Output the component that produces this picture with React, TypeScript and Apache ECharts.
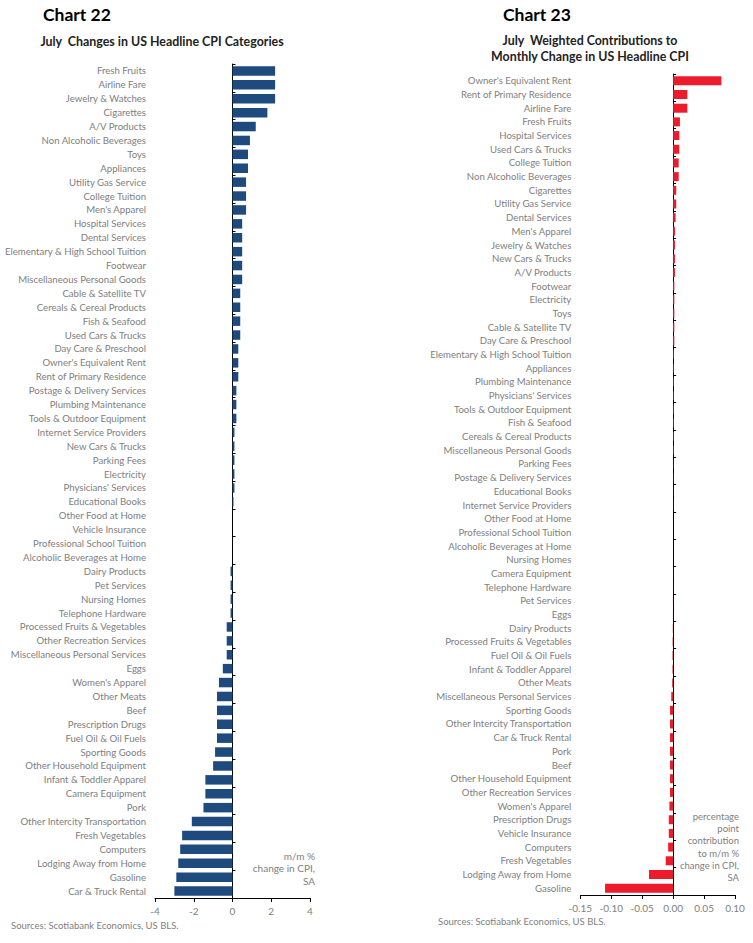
import React, { useEffect, useRef } from "react";
import * as echarts from "echarts";

const leftCategories = [
  "Fresh Fruits", "Airline Fare", "Jewelry & Watches", "Cigarettes", "A/V Products",
  "Non Alcoholic Beverages", "Toys", "Appliances", "Utility Gas Service", "College Tuition",
  "Men's Apparel", "Hospital Services", "Dental Services", "Elementary & High School Tuition", "Footwear",
  "Miscellaneous Personal Goods", "Cable & Satellite TV", "Cereals & Cereal Products", "Fish & Seafood", "Used Cars & Trucks",
  "Day Care & Preschool", "Owner's Equivalent Rent", "Rent of Primary Residence", "Postage & Delivery Services", "Plumbing Maintenance",
  "Tools & Outdoor Equipment", "Internet Service Providers", "New Cars & Trucks", "Parking Fees", "Electricity",
  "Physicians' Services", "Educational Books", "Other Food at Home", "Vehicle Insurance", "Professional School Tuition",
  "Alcoholic Beverages at Home", "Dairy Products", "Pet Services", "Nursing Homes", "Telephone Hardware",
  "Processed Fruits & Vegetables", "Other Recreation Services", "Miscellaneous Personal Services", "Eggs", "Women's Apparel",
  "Other Meats", "Beef", "Prescription Drugs", "Fuel Oil & Oil Fuels", "Sporting Goods",
  "Other Household Equipment", "Infant & Toddler Apparel", "Camera Equipment", "Pork", "Other Intercity Transportation",
  "Fresh Vegetables", "Computers", "Lodging Away from Home", "Gasoline", "Car & Truck Rental",
];
const leftValues = [
  2.2, 2.2, 2.2, 1.8, 1.2,
  0.9, 0.8, 0.8, 0.7, 0.7,
  0.7, 0.5, 0.5, 0.5, 0.5,
  0.5, 0.4, 0.4, 0.4, 0.4,
  0.3, 0.3, 0.3, 0.2, 0.2,
  0.2, 0.1, 0.1, 0.1, 0.1,
  0.1, 0.05, 0, 0, 0,
  0, -0.1, -0.1, -0.1, -0.1,
  -0.3, -0.3, -0.3, -0.5, -0.7,
  -0.8, -0.8, -0.8, -0.8, -0.9,
  -1.0, -1.4, -1.4, -1.5, -2.1,
  -2.6, -2.7, -2.8, -2.9, -3.0,
];

const rightCategories = [
  "Owner's Equivalent Rent", "Rent of Primary Residence", "Airline Fare", "Fresh Fruits", "Hospital Services",
  "Used Cars & Trucks", "College Tuition", "Non Alcoholic Beverages", "Cigarettes", "Utility Gas Service",
  "Dental Services", "Men's Apparel", "Jewelry & Watches", "New Cars & Trucks", "A/V Products",
  "Footwear", "Electricity", "Toys", "Cable & Satellite TV", "Day Care & Preschool",
  "Elementary & High School Tuition", "Appliances", "Plumbing Maintenance", "Physicians' Services", "Tools & Outdoor Equipment",
  "Fish & Seafood", "Cereals & Cereal Products", "Miscellaneous Personal Goods", "Parking Fees", "Postage & Delivery Services",
  "Educational Books", "Internet Service Providers", "Other Food at Home", "Professional School Tuition", "Alcoholic Beverages at Home",
  "Nursing Homes", "Camera Equipment", "Telephone Hardware", "Pet Services", "Eggs",
  "Dairy Products", "Processed Fruits & Vegetables", "Fuel Oil & Oil Fuels", "Infant & Toddler Apparel", "Other Meats",
  "Miscellaneous Personal Services", "Sporting Goods", "Other Intercity Transportation", "Car & Truck Rental", "Pork",
  "Beef", "Other Household Equipment", "Other Recreation Services", "Women's Apparel", "Prescription Drugs",
  "Vehicle Insurance", "Computers", "Fresh Vegetables", "Lodging Away from Home", "Gasoline",
];
const rightValues = [
  0.078, 0.023, 0.023, 0.011, 0.01,
  0.01, 0.009, 0.009, 0.005, 0.005,
  0.004, 0.003, 0.003, 0.003, 0.003,
  0.002, 0.002, 0.002, 0.002, 0.002,
  0.001, 0.001, 0.001, 0.001, 0.001,
  0.001, 0.001, 0.001, 0.0005, 0.0005,
  0.0003, 0.0003, 0, 0, 0,
  0, -0.0002, -0.0002, -0.0003, -0.0003,
  -0.0005, -0.0008, -0.001, -0.001, -0.0015,
  -0.003, -0.005, -0.005, -0.005, -0.005,
  -0.005, -0.005, -0.005, -0.006, -0.007,
  -0.007, -0.008, -0.012, -0.039, -0.11,
];

const leftTicks = { min: -4, max: 4, interval: 2 };
const rightTicks = { min: -0.15, max: 0.1, interval: 0.05 };

const FONT = "Lato, 'Open Sans', sans-serif";
const LABEL = "#808080";

export default function App() {
  const ref = useRef<HTMLDivElement>(null);
  useEffect(() => {
    if (!ref.current) return;
    const chart = echarts.init(ref.current, undefined, { renderer: "svg" });
    const labelStyle = { color: LABEL, fontSize: 9.6, fontFamily: FONT };
    const catAxisLabels = (gi: number, data: string[]) => ({
      type: "category",
      gridIndex: gi,
      data,
      inverse: true,
      position: "left",
      axisLine: { show: false, onZero: false },
      axisTick: { show: false },
      axisLabel: { ...labelStyle, margin: 9, interval: 0 },
    });
    const catAxisLine = (gi: number, data: string[]) => ({
      type: "category",
      gridIndex: gi,
      data,
      inverse: true,
      position: "left",
      axisLine: { show: true, onZero: true, lineStyle: { color: "#000", width: 1 } },
      axisTick: { show: true, inside: true, length: 3, lineStyle: { color: "#000" } },
      axisLabel: { show: false },
    });
    chart.setOption({
      animation: false,
      backgroundColor: "#ffffff",
      textStyle: { fontFamily: FONT },
      grid: [
        { left: 155, right: 443, top: 64, height: 834 },
        { left: 580.3, right: 18, top: 74, height: 821 },
      ],
      xAxis: [
        {
          type: "value",
          gridIndex: 0,
          ...leftTicks,
          splitLine: { show: false },
          axisLine: { show: true, onZero: false, lineStyle: { color: "#000" } },
          axisTick: { show: true, length: 4, lineStyle: { color: "#000" } },
          axisLabel: { ...labelStyle, fontSize: 10, margin: 8 },
        },
        {
          type: "value",
          gridIndex: 1,
          ...rightTicks,
          splitLine: { show: false },
          axisLine: { show: true, onZero: false, lineStyle: { color: "#000" } },
          axisTick: { show: true, length: 4, lineStyle: { color: "#000" } },
          axisLabel: { ...labelStyle, fontSize: 10, margin: 8, formatter: (v: number) => v.toFixed(2) },
        },
      ],
      yAxis: [
        catAxisLabels(0, leftCategories),
        catAxisLine(0, leftCategories),
        catAxisLabels(1, rightCategories),
        catAxisLine(1, rightCategories),
      ],
      series: [
        {
          type: "bar",
          xAxisIndex: 0,
          yAxisIndex: 0,
          data: leftValues,
          barWidth: 9.5,
          itemStyle: { color: "#1f4a7e" },
        },
        {
          type: "bar",
          xAxisIndex: 1,
          yAxisIndex: 2,
          data: rightValues,
          barWidth: 9,
          itemStyle: { color: "#ec1c2d" },
        },
      ],
      graphic: [
        { type: "text", left: 43, top: 5, style: { text: "Chart 22", font: `bold 17.5px ${FONT}`, fill: "#000" } },
        { type: "text", left: 503, top: 5, style: { text: "Chart 23", font: `bold 17.5px ${FONT}`, fill: "#000" } },
        {
          type: "text", x: 162, y: 41,
          style: { text: "July  Changes in US Headline CPI Categories", font: `bold 12.4px ${FONT}`, fill: "#222", align: "center", verticalAlign: "middle" },
        },
        {
          type: "text", x: 590, y: 48,
          style: { text: "July  Weighted Contributions to\nMonthly Change in US Headline CPI", font: `bold 12.4px ${FONT}`, lineHeight: 16, fill: "#222", align: "center", verticalAlign: "middle" },
        },
        {
          type: "text", x: 315, y: 868,
          style: { text: "m/m %\nchange in CPI,\nSA", font: `10px ${FONT}`, lineHeight: 12.5, fill: LABEL, align: "right", verticalAlign: "middle" },
        },
        {
          type: "text", x: 739, y: 847,
          style: { text: "percentage\npoint\ncontribution\nto m/m %\nchange in CPI,\nSA", font: `9.5px ${FONT}`, lineHeight: 12.2, fill: LABEL, align: "right", verticalAlign: "middle" },
        },
        { type: "text", left: 11, top: 920, style: { text: "Sources: Scotiabank Economics, US BLS.", font: `9.5px ${FONT}`, fill: LABEL } },
        { type: "text", left: 438, top: 916, style: { text: "Sources: Scotiabank Economics, US BLS.", font: `9.5px ${FONT}`, fill: LABEL } },
      ],
    });
    return () => chart.dispose();
  }, []);
  return (
    <div
      ref={ref}
      style={{ position: "absolute", left: 0, top: 0, width: 753, height: 943 }}
    />
  );
}
